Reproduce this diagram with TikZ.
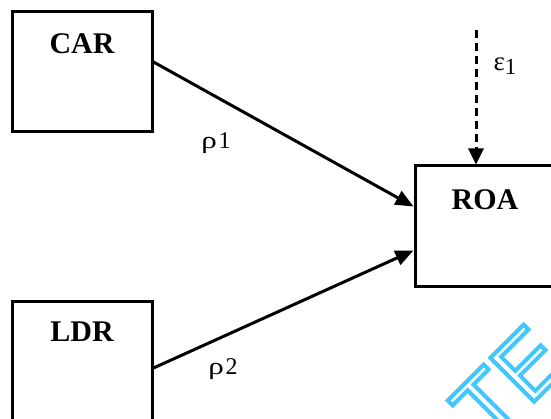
\documentclass[tikz,border=0pt]{standalone}
\usepackage{fontspec}
\setmainfont{Liberation Serif}
\setsansfont{Liberation Sans}
\usetikzlibrary{arrows.meta}
\definecolor{wmcyan}{RGB}{64,200,255}
\tikzset{
  varbox/.style={draw, line width=3pt, rectangle, inner sep=0pt},
  vartitle/.style={font=\fontsize{30}{30}\selectfont\bfseries, inner sep=0pt},
  coef/.style={font=\fontsize{24}{24}\selectfont, inner sep=0pt},
  path/.style={line width=3pt, -{Triangle[length=18pt,width=15pt]}},
  errpath/.style={line width=3pt, dash pattern=on 8pt off 5pt, -{Triangle[length=16pt,width=15pt]}}
}
\newcommand{\rhoglyph}{\scalebox{1.3}[1]{ρ}}
\begin{document}
\begin{tikzpicture}[x=1pt,y=-1pt]
  \useasboundingbox (0,0) rectangle (551,419);
  \clip (0,0) rectangle (551,419);
  \fill[white] (0,0) rectangle (551,419);

  % variable boxes
  \node[varbox, minimum width=140pt, minimum height=120pt] (car) at (82,72) {};
  \node[varbox, minimum width=140pt, minimum height=148pt] (ldr) at (82,376) {};
  \node[varbox, minimum width=141pt, minimum height=121pt] (roa) at (485.5,226.5) {};

  \node[vartitle] (cart) at (82,44) {CAR};
  \node[vartitle] (ldrt) at (82,332) {LDR};
  \node[vartitle] (roat) at (485,200) {ROA};

  % structural paths
  \draw[path] ([yshift=10pt]car.east) -- ([yshift=20pt]roa.west);
  \draw[path] ([yshift=8pt]ldr.east) -- ([yshift=-24pt]roa.west);

  % error term
  \coordinate (errtop) at (476,30);
  \draw[errpath] (errtop) -- ([xshift=-9.5pt]roa.north);
  \node[coef] (eps) at (505,66)
    {{\fontsize{27}{27}\selectfont ε}\raisebox{-4pt}{\fontsize{23}{23}\selectfont 1}};

  % path coefficients
  \node[coef] (r1) at (216,143) {\rhoglyph\hspace{1.5pt}1};
  \node[coef] (r2) at (223,369) {\rhoglyph\hspace{1.5pt}2};

  % stamp in the corner
  \node[rotate=45, anchor=north west, inner sep=0pt, text=wmcyan,
        font=\fontsize{90}{90}\selectfont\sffamily] (stamp) at (446,402)
        {\special{pdf:literal direct 1 Tr 4 w 0.25 0.78 1 RG}TE\special{pdf:literal direct 0 Tr}};
\end{tikzpicture}
\end{document}
